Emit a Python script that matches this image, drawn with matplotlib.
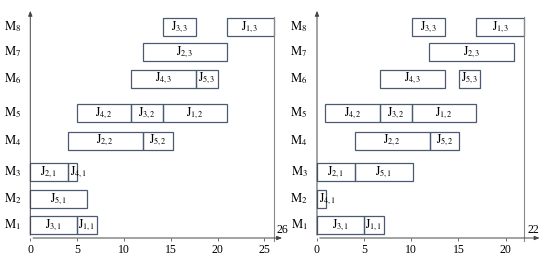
import matplotlib
matplotlib.use("Agg")
import matplotlib.pyplot as plt
from matplotlib.patches import Rectangle

plt.rcParams['font.family'] = ['Liberation Serif', 'DejaVu Serif']
plt.rcParams['mathtext.fontset'] = 'stix'

machines = ['M1', 'M2', 'M3', 'M4', 'M5', 'M6', 'M7', 'M8']

# schedule a (left)
a_ticks = [0, 5, 10, 15, 20, 25]
a_mach = [8, 8, 7, 6, 6, 5, 5, 5, 4, 4, 3, 3, 2, 1, 1]
a_job = ['3,3', '1,3', '2,3', '4,3', '5,3', '4,2', '3,2', '1,2', '2,2', '5,2', '2,1', '4,1', '5,1', '3,1', '1,1']
a_start = [14.2, 21, 12, 10.8, 17.7, 5, 10.8, 14.2, 4, 12, 0, 4, 0, 0, 5]
a_end = [17.7, 26, 21, 17.7, 20, 10.8, 14.2, 21, 12, 15.2, 4, 5, 6.1, 5, 7.1]
a_makespan = 26

# schedule b (right)
b_ticks = [0, 5, 10, 15, 20]
b_mach = [8, 8, 7, 6, 6, 5, 5, 5, 4, 4, 3, 3, 2, 1, 1]
b_job = ['3,3', '1,3', '2,3', '4,3', '5,3', '4,2', '3,2', '1,2', '2,2', '5,2', '2,1', '5,1', '4,1', '3,1', '1,1']
b_start = [10.1, 16.9, 11.9, 6.7, 15.1, 0.9, 6.7, 10.1, 4, 12, 0, 4, 0, 0, 5]
b_end = [13.6, 22, 20.9, 13.6, 17.3, 6.7, 10.1, 16.9, 12, 15.1, 4, 10.2, 1, 5, 7.1]
b_makespan = 22

# layout: row centres in pixels above the time axis
row_y = [13, 39, 66, 97.5, 125, 159.5, 186, 211]
bar_h = 18
edge = '#4a5a70'


def draw(ax, ticks, mach, job, start, end, makespan, xmax, arrow_x):
    ax.set_xlim(0, xmax)
    ax.set_ylim(0, 238)
    for s in ax.spines.values():
        s.set_visible(False)
    ax.set_yticks([])
    ax.set_xticks(ticks)
    ax.tick_params(axis='x', length=2, width=0.6, color='#555555', pad=2, labelsize=8.5)
    for m, j, s, e in zip(mach, job, start, end):
        yc = row_y[m - 1]
        ax.add_patch(Rectangle((s, yc - bar_h / 2), e - s, bar_h, fill=False,
                               edgecolor=edge, linewidth=0.9, clip_on=False))
        txt = r'$\mathrm{J}_{' + j + '}$'
        if e - s < 2:
            ax.text(s + 0.25, yc, txt, ha='left', va='center', fontsize=8.5)
        else:
            ax.text((s + e) / 2, yc, txt, ha='center', va='center', fontsize=8.5)
    for i, name in enumerate(machines):
        ax.text(-1.9, row_y[i], r'$\mathrm{M}_{' + name[1:] + '}$', ha='center',
                va='center', fontsize=9, clip_on=False)
    # axes with arrows
    ax.annotate('', xy=(arrow_x, 0), xytext=(0, 0), annotation_clip=False,
                arrowprops=dict(arrowstyle='-|>,head_length=0.3,head_width=0.12',
                                color='#444444', lw=0.7))
    ax.annotate('', xy=(0, 230), xytext=(0, 0), annotation_clip=False,
                arrowprops=dict(arrowstyle='-|>,head_length=0.3,head_width=0.12',
                                color='#444444', lw=0.7))
    ax.plot([makespan, makespan], [-3, 221], color='#888888', lw=0.8, clip_on=False)
    ax.text(makespan + 0.3, 2, str(makespan), ha='left', va='bottom', fontsize=8.5)


fig = plt.figure(figsize=(5.5, 2.6), dpi=100)
W, H = 550, 260
ax1 = fig.add_axes([30.3 / W, (H - 238) / H, 9.36 * 27.5 / W, 238 / H])
ax2 = fig.add_axes([317 / W, (H - 238) / H, 9.43 * 24.5 / W, 238 / H])

draw(ax1, a_ticks, a_mach, a_job, a_start, a_end, a_makespan, 27.5, 27.2)
draw(ax2, b_ticks, b_mach, b_job, b_start, b_end, b_makespan, 24.5, 23.9)

fig.savefig('out.png', dpi=100)
